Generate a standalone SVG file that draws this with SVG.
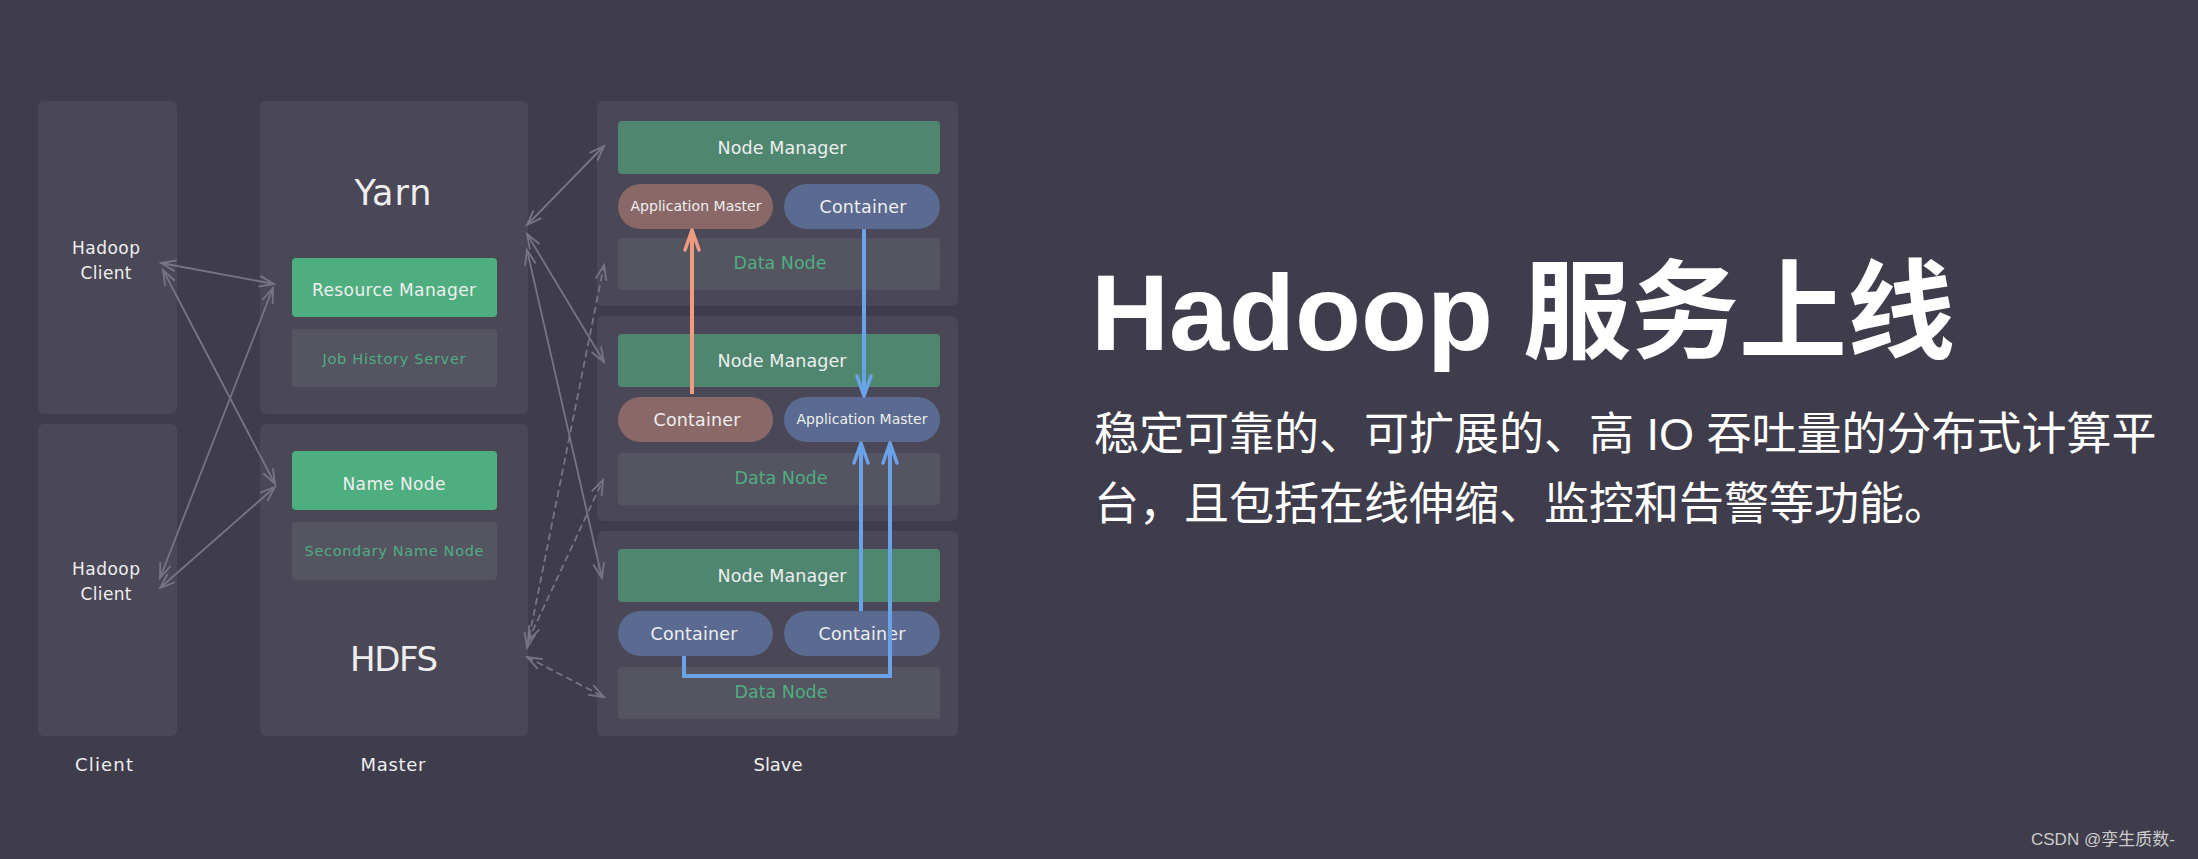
<svg xmlns="http://www.w3.org/2000/svg" width="2198" height="859" viewBox="0 0 2198 859">
<style>
.panel{fill:#4a4856}
.inner{fill:#555461}
.green{fill:#4fae80}
.nm{fill:#4f8670}
.brown{fill:#8b6868}
.bluep{fill:#5a6a90}
.t{font-family:"DejaVu Sans",Verdana,sans-serif;fill:#eeeeee;text-anchor:middle}
.tg{font-family:"DejaVu Sans",Verdana,sans-serif;fill:#4fae80;text-anchor:middle}
.gl{fill:none;stroke:#777585;stroke-width:1.8}
.dash{stroke-dasharray:7 4}
.bl{fill:none;stroke:#6aa2e8;stroke-width:4}
.sl{fill:none;stroke:#ef9b82;stroke-width:4}
.cn{font-family:"Liberation Sans","Noto Sans CJK SC",sans-serif;fill:#ffffff}
</style>
<defs>
<marker id="ga" markerUnits="userSpaceOnUse" markerWidth="18" markerHeight="14" refX="15" refY="7" orient="auto-start-reverse" overflow="visible">
<path d="M0,1.5 L15,7 L0,12.5" fill="none" stroke="#777585" stroke-width="1.8"/>
</marker>
<marker id="ba" markerUnits="userSpaceOnUse" markerWidth="26" markerHeight="20" refX="22" refY="10" orient="auto-start-reverse" overflow="visible">
<path d="M2,3 L22,10 L2,17" fill="none" stroke="#6aa2e8" stroke-width="3.5" stroke-linecap="round" stroke-linejoin="round"/>
</marker>
<marker id="sa" markerUnits="userSpaceOnUse" markerWidth="26" markerHeight="20" refX="22" refY="10" orient="auto-start-reverse" overflow="visible">
<path d="M2,3 L22,10 L2,17" fill="none" stroke="#ef9b82" stroke-width="3.5" stroke-linecap="round" stroke-linejoin="round"/>
</marker>
</defs>
<rect x="0" y="0" width="2198" height="859" fill="#3f3d4b"/>

<g id="client">
<rect class="panel" x="38" y="101" width="139" height="313" rx="6"/>
<rect class="panel" x="38" y="424" width="139" height="312" rx="6"/>
<text class="t" x="106" y="254" font-size="17" textLength="68">Hadoop</text>
<text class="t" x="106" y="279" font-size="17" textLength="51">Client</text>
<text class="t" x="106" y="575" font-size="17" textLength="68">Hadoop</text>
<text class="t" x="106" y="600" font-size="17" textLength="51">Client</text>
<text class="t" x="104" y="771" font-size="18" textLength="58">Client</text>
</g>

<g id="master-yarn">
<rect class="panel" x="260" y="101" width="268" height="313" rx="6"/>
<text class="t" x="393" y="205" font-size="35" textLength="77">Yarn</text>
</g>
<g id="resource-manager">
<rect class="green" x="292" y="258" width="205" height="59" rx="4"/>
<text class="t" x="394" y="296" font-size="17" textLength="164">Resource Manager</text>
</g>
<g id="job-history">
<rect class="inner" x="292" y="329" width="205" height="58" rx="4"/>
<text class="tg" x="394" y="364" font-size="14.5" textLength="143">Job History Server</text>
</g>
<g id="master-hdfs">
<rect class="panel" x="260" y="424" width="268" height="312" rx="6"/>
<text class="t" x="394" y="671" font-size="34" textLength="88">HDFS</text>
<text class="t" x="393" y="771" font-size="18" textLength="65">Master</text>
</g>
<g id="name-node">
<rect class="green" x="292" y="451" width="205" height="59" rx="4"/>
<text class="t" x="394" y="490" font-size="17" textLength="103">Name Node</text>
</g>
<g id="secondary-name-node">
<rect class="inner" x="292" y="522" width="205" height="58" rx="4"/>
<text class="tg" x="394" y="556" font-size="14.5" textLength="179">Secondary Name Node</text>
</g>

<g id="slave1">
<rect class="panel" x="597" y="101" width="361" height="205" rx="6"/>
<rect class="nm" x="618" y="121" width="322" height="53" rx="4"/>
<text class="t" x="782" y="154" font-size="17.5" textLength="129">Node Manager</text>
<rect class="brown" x="618" y="184" width="155" height="45" rx="22.5"/>
<text class="t" x="696" y="211" font-size="14" textLength="131">Application Master</text>
<rect class="bluep" x="784" y="184" width="156" height="45" rx="22.5"/>
<text class="t" x="863" y="213" font-size="17.5" textLength="87">Container</text>
<rect class="inner" x="618" y="238" width="322" height="52" rx="4"/>
<text class="tg" x="780" y="269" font-size="17.5" textLength="93">Data Node</text>
</g>
<g id="slave2">
<rect class="panel" x="597" y="316" width="361" height="205" rx="6"/>
<rect class="nm" x="618" y="334" width="322" height="53" rx="4"/>
<text class="t" x="782" y="367" font-size="17.5" textLength="129">Node Manager</text>
<rect class="brown" x="618" y="397" width="155" height="45" rx="22.5"/>
<text class="t" x="697" y="426" font-size="17.5" textLength="87">Container</text>
<rect class="bluep" x="784" y="397" width="156" height="45" rx="22.5"/>
<text class="t" x="862" y="424" font-size="14" textLength="131">Application Master</text>
<rect class="inner" x="618" y="453" width="322" height="52" rx="4"/>
<text class="tg" x="781" y="484" font-size="17.5" textLength="93">Data Node</text>
</g>
<g id="slave3">
<rect class="panel" x="597" y="531" width="361" height="205" rx="6"/>
<rect class="nm" x="618" y="549" width="322" height="53" rx="4"/>
<text class="t" x="782" y="582" font-size="17.5" textLength="129">Node Manager</text>
<rect class="bluep" x="618" y="611" width="155" height="45" rx="22.5"/>
<text class="t" x="694" y="640" font-size="17.5" textLength="87">Container</text>
<rect class="bluep" x="784" y="611" width="156" height="45" rx="22.5"/>
<text class="t" x="862" y="640" font-size="17.5" textLength="87">Container</text>
<rect class="inner" x="618" y="667" width="322" height="52" rx="4"/>
<text class="tg" x="781" y="698" font-size="17.5" textLength="93">Data Node</text>
<text class="t" x="778" y="771" font-size="18" textLength="49">Slave</text>
</g>

<g id="connectors">
<line class="gl" x1="161" y1="263" x2="274" y2="284" marker-start="url(#ga)" marker-end="url(#ga)"/>
<line class="gl" x1="163" y1="270" x2="275" y2="484" marker-start="url(#ga)" marker-end="url(#ga)"/>
<line class="gl" x1="160" y1="578" x2="273" y2="288" marker-start="url(#ga)" marker-end="url(#ga)"/>
<line class="gl" x1="160" y1="588" x2="275" y2="487" marker-start="url(#ga)" marker-end="url(#ga)"/>
<line class="gl" x1="527" y1="225" x2="604" y2="146" marker-start="url(#ga)" marker-end="url(#ga)"/>
<line class="gl" x1="527" y1="234" x2="604" y2="362" marker-start="url(#ga)" marker-end="url(#ga)"/>
<line class="gl" x1="527" y1="250" x2="602" y2="578" marker-start="url(#ga)" marker-end="url(#ga)"/>
<line class="gl dash" x1="527" y1="648" x2="604" y2="265" marker-start="url(#ga)" marker-end="url(#ga)"/>
<line class="gl dash" x1="528" y1="641" x2="603" y2="480" marker-start="url(#ga)" marker-end="url(#ga)"/>
<line class="gl dash" x1="527" y1="657" x2="604" y2="697" marker-start="url(#ga)" marker-end="url(#ga)"/>
<line class="sl" x1="692" y1="394" x2="692" y2="230" marker-end="url(#sa)"/>
<line class="bl" x1="864" y1="229" x2="864" y2="396" marker-end="url(#ba)"/>
<line class="bl" x1="861" y1="611" x2="861" y2="443" marker-end="url(#ba)"/>
<path class="bl" d="M684,656 V676 H890 V443" marker-end="url(#ba)"/>
</g>

<g id="headline">
<text class="cn" x="1091" y="350" font-size="108" font-weight="bold">Hadoop 服务上线</text>
<text class="cn" x="1094" y="450" font-size="45">稳定可靠的、可扩展的、高 IO 吞吐量的分布式计算平</text>
<text class="cn" x="1094" y="520" font-size="45">台，且包括在线伸缩、监控和告警等功能。</text>
</g>
<text x="2031" y="845" font-family="Liberation Sans,'Noto Sans CJK SC',sans-serif" font-size="17" fill="#cccccc">CSDN @孪生质数-</text>
</svg>
